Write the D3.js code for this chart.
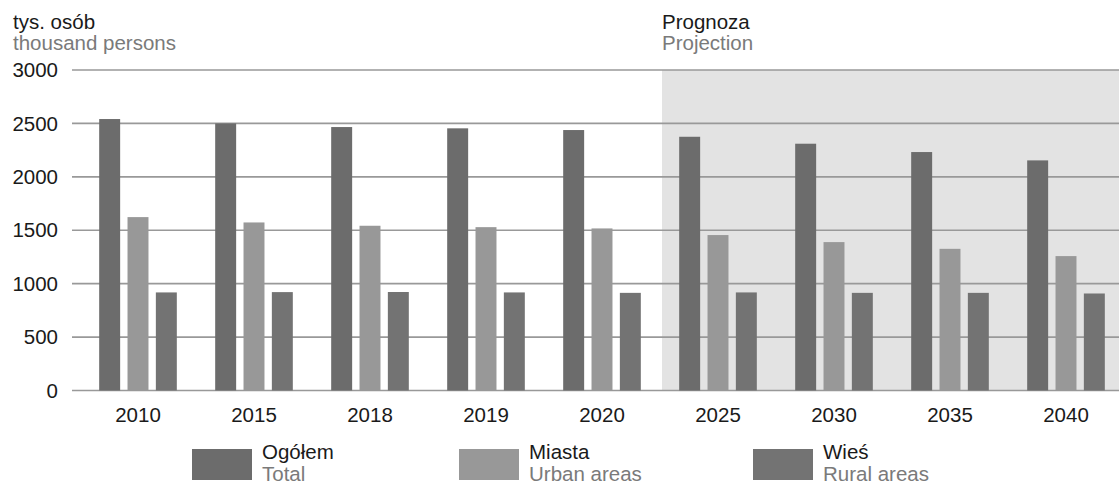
<!DOCTYPE html>
<html>
<head>
<meta charset="utf-8">
<script src="https://cdn.jsdelivr.net/npm/d3@7"></script>
<style>
  html, body { margin: 0; padding: 0; background: #fff; }
  svg { display: block; font-family: "Liberation Sans", Arial, Helvetica, sans-serif; }
</style>
</head>
<body>
<svg id="chart" width="1119" height="484"></svg>
<script>
// Population (thousand persons), actual years and projection
const years = ["2010", "2015", "2018", "2019", "2020", "2025", "2030", "2035", "2040"];
const projectionStart = "2025";
const total = [2541, 2500, 2466, 2454, 2438, 2375, 2310, 2232, 2154];
const urban = [1623, 1573, 1542, 1529, 1517, 1455, 1389, 1326, 1258];
const rural = [918, 921, 922, 918, 914, 918, 914, 914, 908];
const yTicks = [0, 500, 1000, 1500, 2000, 2500, 3000];

const seriesKeys = ["total", "urban", "rural"];
const seriesNames = [["Ogółem", "Total"], ["Miasta", "Urban areas"], ["Wieś", "Rural areas"]];
const seriesColors = ["#6c6c6c", "#989898", "#737373"];
const seriesValues = [total, urban, rural];

const FS = 20.5;
const svg = d3.select("#chart");
const W = 1119;

const y = d3.scaleLinear().domain([0, 3000]).range([390.5, 70]);
const x = d3.scaleBand().domain(years).range([80, 1124]).padding(0);
const xs = d3.scaleBand().domain(seriesKeys)
  .range([-42.5, 42.5]).paddingInner(0.26).paddingOuter(0.13);

// Projection background
const shadeX = 662;
svg.append("rect")
  .attr("x", shadeX).attr("y", y(3000))
  .attr("width", W - shadeX).attr("height", y(0) - y(3000))
  .attr("fill", "#e3e3e3");

// Gridlines and y labels
const gridLeft = 72;
svg.append("g").selectAll("line").data(yTicks).join("line")
  .attr("x1", gridLeft).attr("x2", W)
  .attr("y1", d => y(d)).attr("y2", d => y(d))
  .attr("stroke", "#999").attr("stroke-width", 1.6);

svg.append("g").selectAll("text").data(yTicks).join("text")
  .attr("x", 58).attr("y", d => y(d)).attr("dy", "0.35em")
  .attr("text-anchor", "end").attr("font-size", FS).attr("fill", "#1a1a1a")
  .text(d => d);

// Bars
const groups = svg.append("g").selectAll("g").data(years).join("g")
  .attr("transform", d => `translate(${x(d) + x.bandwidth() / 2},0)`);

groups.selectAll("rect")
  .data((yr, i) => seriesKeys.map((k, j) => ({ key: k, value: seriesValues[j][i], color: seriesColors[j] })))
  .join("rect")
  .attr("x", d => xs(d.key))
  .attr("width", xs.bandwidth())
  .attr("y", d => y(d.value))
  .attr("height", d => y(0) - y(d.value))
  .attr("fill", d => d.color);

// x labels
svg.append("g").selectAll("text").data(years).join("text")
  .attr("x", d => x(d) + x.bandwidth() / 2).attr("y", 422)
  .attr("text-anchor", "middle").attr("font-size", FS).attr("fill", "#1a1a1a")
  .text(d => d);

// Axis titles
const titles = [
  { x: 13, lines: ["tys. osób", "thousand persons"] },
  { x: shadeX, lines: ["Prognoza", "Projection"] }
];
titles.forEach(t => {
  svg.append("text").attr("x", t.x).attr("y", 29).attr("font-size", FS).attr("fill", "#1a1a1a").text(t.lines[0]);
  svg.append("text").attr("x", t.x).attr("y", 50).attr("font-size", FS).attr("fill", "#7a7a7a").text(t.lines[1]);
});

// Legend
const legendX = [192, 459, 753];
const legend = svg.append("g").selectAll("g").data(seriesKeys).join("g")
  .attr("transform", (d, i) => `translate(${legendX[i]},0)`);
legend.append("rect")
  .attr("x", 0).attr("y", 449).attr("width", 60).attr("height", 31)
  .attr("fill", (d, i) => seriesColors[i]);
legend.append("text")
  .attr("x", 70).attr("y", 459).attr("font-size", FS).attr("fill", "#1a1a1a")
  .text((d, i) => seriesNames[i][0]);
legend.append("text")
  .attr("x", 70).attr("y", 481).attr("font-size", FS).attr("fill", "#7a7a7a")
  .text((d, i) => seriesNames[i][1]);
</script>
</body>
</html>
